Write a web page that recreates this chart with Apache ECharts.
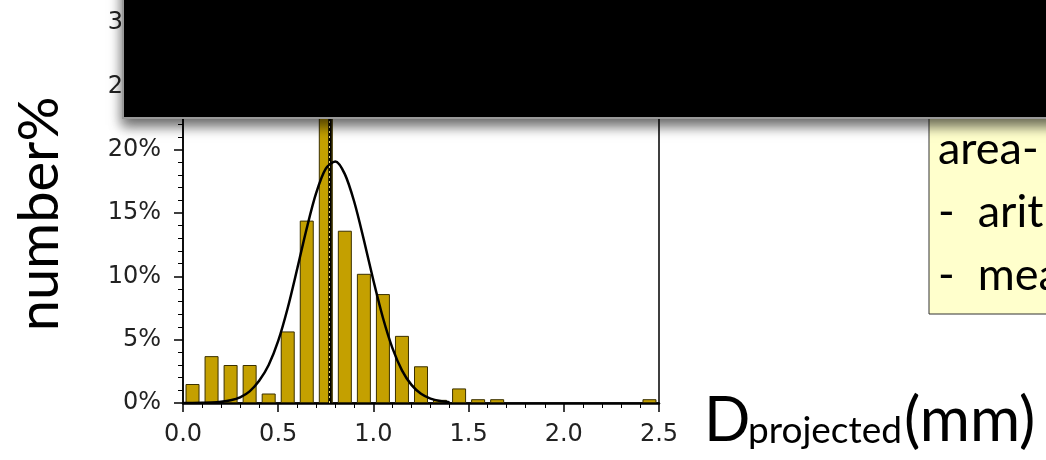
<!DOCTYPE html>
<html>
<head>
<meta charset="utf-8">
<script src="https://cdn.jsdelivr.net/npm/echarts@6/dist/echarts.min.js"></script>
<style>
  html, body { margin: 0; padding: 0; background: #fff; }
  #main { width: 1046px; height: 460px; }
</style>
</head>
<body>
<div id="main"></div>
<script>
// histogram bins (centre in mm, number %)
var binCenter = [0.05, 0.15, 0.25, 0.35, 0.45, 0.55, 0.65, 0.75, 0.85, 0.95, 1.05, 1.15, 1.25, 1.35, 1.45, 1.55, 1.65, 2.45];
var binPercent = [1.5, 3.7, 3.0, 3.0, 0.75, 5.65, 14.4, 25.0, 13.6, 10.2, 8.6, 5.3, 2.9, 0.25, 1.15, 0.3, 0.3, 0.3];

// fitted curve
var curveX = [0.00, 0.05, 0.10, 0.15, 0.20, 0.25, 0.30, 0.35, 0.40, 0.45, 0.50, 0.55, 0.60, 0.65, 0.70, 0.75, 0.80, 0.85, 0.90, 0.95, 1.00, 1.05, 1.10, 1.15, 1.20, 1.25, 1.30, 1.35, 1.40];
var curveY = [0, 0, 0.01, 0.03, 0.09, 0.21, 0.45, 0.92, 1.75, 3.0, 4.9, 7.5, 10.6, 13.8, 16.6, 18.5, 19.07, 18.07, 15.85, 12.87, 9.67, 6.73, 4.33, 2.58, 1.43, 0.73, 0.35, 0.15, 0.06];

var meanX = 0.772;

var xTicks = ['0.0', '0.5', '1.0', '1.5', '2.0', '2.5'];
var yTicks = [0, 5, 10, 15, 20, 25, 30];

var chart = echarts.init(document.getElementById('main'), null, { renderer: 'canvas' });

var bars = [];
for (var i = 0; i < binCenter.length; i++) bars.push([binCenter[i], binPercent[i]]);
var curve = [];
for (var j = 0; j < curveX.length; j++) curve.push([curveX[j], curveY[j]]);

var labelFont = { fontFamily: 'DejaVu Sans', fontSize: 24, color: '#222' };

var option = {
  backgroundColor: '#fff',
  animation: false,
  grid: {
    left: 183, right: 387, top: 23, bottom: 57,
    show: true, borderColor: '#000', borderWidth: 1.5, backgroundColor: 'transparent'
  },
  xAxis: {
    type: 'value', min: 0, max: 2.5, interval: 0.5,
    axisLine: { show: true, onZero: false, lineStyle: { color: '#000', width: 2.5 } },
    axisTick: { show: true, length: 9, lineStyle: { color: '#000', width: 1.5 } },
    minorTick: { show: true, splitNumber: 5, length: 5, lineStyle: { color: '#000', width: 1 } },
    splitLine: { show: false },
    axisLabel: Object.assign({ margin: 20, formatter: function (v) { return xTicks[Math.round(v / 0.5)]; } }, labelFont)
  },
  yAxis: {
    type: 'value', min: yTicks[0], max: yTicks[yTicks.length - 1], interval: 5,
    axisLine: { show: true, lineStyle: { color: '#000', width: 1.5 } },
    axisTick: { show: true, length: 9, lineStyle: { color: '#000', width: 1.5 } },
    minorTick: { show: true, splitNumber: 5, length: 5, lineStyle: { color: '#000', width: 1 } },
    splitLine: { show: false },
    axisLabel: Object.assign({ margin: 22, formatter: '{value}%' }, labelFont)
  },
  series: [
    {
      type: 'bar',
      data: bars,
      barWidth: 14,
      itemStyle: { color: '#c4a000', borderColor: '#3a3000', borderWidth: 1 },
      z: 2
    },
    {
      type: 'line',
      data: curve,
      smooth: 0.3,
      showSymbol: false,
      lineStyle: { color: '#000', width: 2.5 },
      z: 4,
      markLine: {
        silent: true,
        symbol: ['none', 'none'],
        label: { show: false },
        data: [
          { xAxis: meanX, lineStyle: { color: '#000', width: 3.5, type: 'solid' } },
          { xAxis: meanX, lineStyle: { color: '#e8d37a', width: 1, type: [2, 3] } }
        ]
      }
    }
  ],
  graphic: [
    {
      type: 'text', x: 40, y: 214, rotation: Math.PI / 2,
      style: { text: 'number%', font: '56px Lato', fill: '#000', textAlign: 'center', textVerticalAlign: 'middle' }
    },
    {
      type: 'text', x: 704, y: 452,
      style: { text: 'D', font: '61px Lato', fill: '#000', textAlign: 'left', textVerticalAlign: 'bottom' }
    },
    {
      type: 'text', x: 748, y: 450,
      style: { text: 'projected', font: '37px Lato', fill: '#000', textAlign: 'left', textVerticalAlign: 'bottom' }
    },
    {
      type: 'text', x: 904, y: 452,
      style: { text: '(mm)', font: '61px Lato', fill: '#000', textAlign: 'left', textVerticalAlign: 'bottom' }
    },
    {
      type: 'rect', z: 10,
      shape: { x: 929, y: 100, width: 140, height: 214 },
      style: { fill: '#ffffcc', stroke: '#333', lineWidth: 1 }
    },
    {
      type: 'text', x: 938, y: 149, z: 11,
      style: { text: 'area-', font: '45px Lato', fill: '#000', textVerticalAlign: 'middle' }
    },
    {
      type: 'text', x: 938, y: 212, z: 11,
      style: { text: '-  arit', font: '45px Lato', fill: '#000', textVerticalAlign: 'middle' }
    },
    {
      type: 'text', x: 938, y: 275, z: 11,
      style: { text: '-  mea', font: '45px Lato', fill: '#000', textVerticalAlign: 'middle' }
    },
    {
      type: 'rect', z: 20,
      shape: { x: 123, y: -20, width: 940, height: 138 },
      style: {
        fill: '#000', stroke: '#999', lineWidth: 2,
        shadowBlur: 12, shadowOffsetY: 7, shadowColor: 'rgba(0,0,0,0.6)'
      }
    }
  ]
};

chart.setOption(option);
</script>
</body>
</html>
